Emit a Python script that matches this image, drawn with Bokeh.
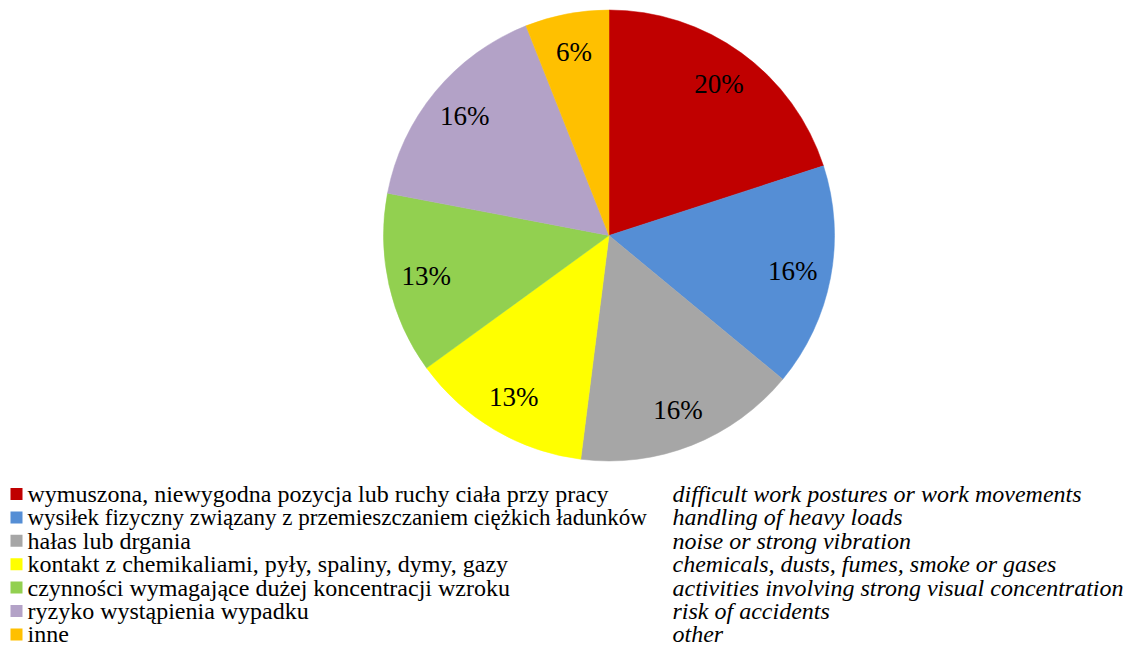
import math
from bokeh.plotting import figure
from bokeh.models import Range1d, ColumnDataSource
from bokeh.core.properties import value
from bokeh.embed import file_html
from bokeh.resources import INLINE

categories_pl = [
    "wymuszona, niewygodna pozycja lub ruchy ciała przy pracy",
    "wysiłek fizyczny związany z przemieszczaniem ciężkich ładunków",
    "hałas lub drgania",
    "kontakt z chemikaliami, pyły, spaliny, dymy, gazy",
    "czynności wymagające dużej koncentracji wzroku",
    "ryzyko wystąpienia wypadku",
    "inne",
]
categories_en = [
    "difficult work postures or work movements",
    "handling of heavy loads",
    "noise or strong vibration",
    "chemicals, dusts, fumes, smoke or gases",
    "activities involving strong visual concentration",
    "risk of accidents",
    "other",
]
shares = [20, 16, 16, 13, 13, 16, 6]
colors = ["#C00000", "#558ED5", "#A6A6A6", "#FFFF00", "#92D050", "#B3A2C7", "#FFC000"]

W, H = 1127, 649
p = figure(width=W, height=H, output_backend="svg", toolbar_location=None,
           x_range=Range1d(0, W), y_range=Range1d(649 - H, 649),
           min_border=0)
p.axis.visible = False
p.grid.visible = False
p.outline_line_color = None
p.background_fill_color = "white"

cx, cy, r = 608.5, 649 - 235, 225.5
total = sum(shares)
starts, ends, lx, ly, labels = [], [], [], [], []
cum = 0
for s in shares:
    a0 = math.pi / 2 - 2 * math.pi * cum / total
    cum += s
    a1 = math.pi / 2 - 2 * math.pi * cum / total
    starts.append(a0)
    ends.append(a1)
    mid = (a0 + a1) / 2
    lx.append(cx + 0.83 * r * math.cos(mid))
    ly.append(cy + 0.83 * r * math.sin(mid))
    labels.append(f"{s}%")

src = ColumnDataSource(dict(start=starts, end=ends, color=colors, lx=lx, ly=ly, label=labels))
p.wedge(x=cx, y=cy, radius=r, start_angle="start", end_angle="end", direction="clock",
        fill_color="color", line_color="color", line_width=0.5, source=src)
p.text(x="lx", y="ly", text="label", source=src, text_font=value("Liberation Serif"),
       text_font_size="27px", text_align="center", text_baseline="middle", text_color="black")

# legend
row0, step = 649 - 493.5, 23.4
ys = [row0 - i * step for i in range(len(categories_pl))]
sizes = ["24px", "23px", "24px", "24px", "24px", "24px", "24px"]
lsrc = ColumnDataSource(dict(y=ys, color=colors, pl=categories_pl, en=categories_en, size=sizes))
p.rect(x=16, y="y", width=12, height=12, fill_color="color", line_color=None, source=lsrc)
p.text(x=27, y="y", text="pl", source=lsrc, text_font=value("Liberation Serif"),
       text_font_size="size", text_baseline="middle", text_color="black")
p.text(x=672, y="y", text="en", source=lsrc, text_font=value("Liberation Serif"),
       text_font_style="italic", text_font_size="24px", text_baseline="middle", text_color="black")

open("out.html", "w").write(file_html(p, INLINE))
